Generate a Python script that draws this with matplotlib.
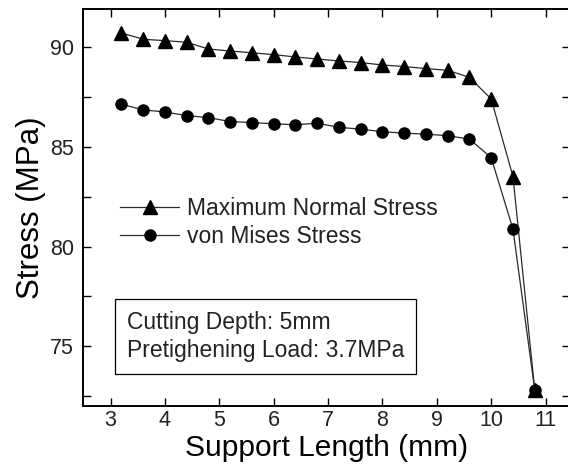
import matplotlib
matplotlib.use("Agg")
import matplotlib.pyplot as plt
from matplotlib.ticker import MultipleLocator

plt.rcParams["font.family"] = ["Liberation Sans", "DejaVu Sans"]

# support length (mm)
support_length = [3.2, 3.6, 4.0, 4.4, 4.8, 5.2, 5.6, 6.0, 6.4, 6.8,
                  7.2, 7.6, 8.0, 8.4, 8.8, 9.2, 9.6, 10.0, 10.4, 10.8]
# stress values (MPa)
max_normal = [90.72, 90.40, 90.33, 90.25, 89.91, 89.81, 89.72, 89.63, 89.51, 89.41,
              89.31, 89.23, 89.11, 89.03, 88.93, 88.84, 88.49, 87.40, 83.51, 72.81]
von_mises = [87.14, 86.86, 86.75, 86.57, 86.47, 86.27, 86.22, 86.16, 86.11, 86.19,
             85.98, 85.89, 85.76, 85.69, 85.64, 85.56, 85.39, 84.46, 80.87, 72.81]

fig = plt.figure(figsize=(5.68, 4.74), dpi=100)
ax = fig.add_axes([0.1467, 0.1435, 0.856, 0.8376])

line_col = "#2a2a2a"
ax.plot(support_length, max_normal, color=line_col, lw=0.9, marker="^",
        markersize=10.5, markerfacecolor="k", markeredgecolor="k",
        label="Maximum Normal Stress")
ax.plot(support_length, von_mises, color=line_col, lw=0.9, marker="o",
        markersize=8, markerfacecolor="k", markeredgecolor="k",
        label="von Mises Stress")

ax.set_xlim(2.5, 11.44)
ax.set_ylim(72.0, 91.92)
ax.xaxis.set_major_locator(MultipleLocator(1))
ax.yaxis.set_major_locator(MultipleLocator(5))
ax.yaxis.set_minor_locator(MultipleLocator(2.5))

ax.tick_params(which="both", direction="in", top=True, right=True,
               length=5.8, width=1.0, labelsize=15.5, labelcolor="#222222")
ax.tick_params(axis="x", pad=3)
ax.tick_params(axis="y", pad=6.7)
for s in ax.spines.values():
    s.set_linewidth(1.4)

ax.set_xlabel("Support Length (mm)", fontsize=21.5, labelpad=2)
ax.set_ylabel("Stress (MPa)", fontsize=22.5, labelpad=3)

leg = ax.legend(loc="upper left", bbox_to_anchor=(0.075, 0.527), frameon=False,
                fontsize=16.5, handlelength=2.6, handletextpad=0.35,
                labelspacing=0.25, borderpad=0, borderaxespad=0)
for t in leg.get_texts():
    t.set_color("#222222")

ax.text(0.0893, 0.1096, "Cutting Depth: 5mm\nPretighening Load: 3.7MPa",
        transform=ax.transAxes, fontsize=16.5, color="#222222",
        linespacing=1.31, va="bottom", ha="left",
        bbox=dict(boxstyle="square,pad=0.5", facecolor="white",
                  edgecolor="k", linewidth=0.9))

fig.savefig("out.png", dpi=100)
